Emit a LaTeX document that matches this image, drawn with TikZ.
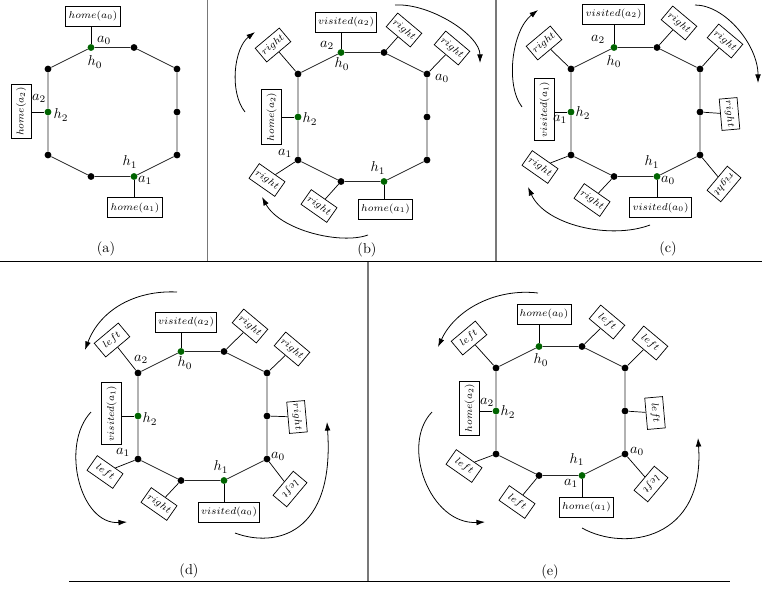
\documentclass[tikz,border=0pt]{standalone}
\usetikzlibrary{calc,arrows.meta}
\definecolor{dkgreen}{RGB}{0,100,0}
\definecolor{divgray}{RGB}{120,120,120}
\tikzset{
 vtx/.style={circle,fill=black,inner sep=0pt,minimum size=4.8pt},
 hvtx/.style={vtx,fill=dkgreen},
 ringline/.style={line width=0.55pt,draw=black!85},
 conn/.style={line width=0.5pt},
 lbl/.style={inner sep=0pt,font=\normalsize},
 ibox/.style={draw,line width=0.5pt,font=\scriptsize,inner sep=2pt,minimum height=14pt},
 dbox/.style={draw,line width=0.5pt,font=\scriptsize,inner sep=1.5pt,minimum width=22pt,minimum height=12.5pt},
 turn/.style={line width=0.55pt,-{Latex[length=6pt,width=4pt]}},
 divv/.style={draw=divgray,line width=0.9pt},
 divh/.style={draw=black,line width=0.6pt},
 sublbl/.style={inner sep=0pt,font=\normalsize}
}
\newcommand\ringat[3]{%
 \node[vtx] (#1L1) at (#2,#3) {};
 \node[hvtx] (#1T1) at (#2+43,#3-21.5) {};
 \node[vtx] (#1T2) at (#2+86,#3-21.5) {};
 \node[vtx] (#1R1) at (#2+129,#3) {};
 \node[vtx] (#1R2) at (#2+129,#3+43) {};
 \node[vtx] (#1R3) at (#2+129,#3+86) {};
 \node[hvtx] (#1B2) at (#2+86,#3+107.5) {};
 \node[vtx] (#1B1) at (#2+43,#3+107.5) {};
 \node[vtx] (#1L3) at (#2,#3+86) {};
 \node[hvtx] (#1L2) at (#2,#3+43) {};
 \draw[ringline] (#1L1)--(#1T1)--(#1T2)--(#1R1)--(#1R2)--(#1R3)--(#1B2)--(#1B1)--(#1L3)--(#1L2)--(#1L1);
}
% #1 name, #2 position, #3 rotation, #4 text, #5 vertex
\newcommand\dirbox[5]{%
 \node[dbox,rotate=#3] (#1) at (#2) {$#4$};
 \draw[conn] (#5) -- (#1);
}
% info boxes: straight connector; #6 = |- or -| ; #7 = anchor of box
\newcommand\infobox[7]{%
 \node[ibox,rotate=#3] (#1) at (#2) {$#4$};
 \draw[conn] (#5) -- (#5 #6 #1.#7);
}
\begin{document}
\begin{tikzpicture}[x=0.7pt,y=-0.7pt]
\useasboundingbox (0,0) rectangle (762,588);
% dividers
\draw[divv] (207.5,0) -- (207.5,261.5);
\draw[divv] (496,0) -- (496,261.5);
\draw[divv] (368,261.5) -- (368,581.5);
\draw[divh] (0,261.5) -- (762,261.5);
\draw[divh] (69,581.5) -- (730,581.5);

% ---------- (a)
\ringat{a}{48}{69}
\infobox{aH0}{93,16}{0}{home(a_0)}{aT1}{|-}{south}
\infobox{aH2}{21,111.5}{90}{home(a_2)}{aL2}{-|}{south}
\infobox{aH1}{135,207.5}{0}{home(a_1)}{aB2}{|-}{north}
\node[lbl] (aLa0) at ($(aT1)+(13,-7.5)$) {$a_0$};
\node[lbl] (aLh0) at ($(aT1)+(4,14.5)$) {$h_0$};
\node[lbl] (aLa2) at ($(aL2)+(-9,-14)$) {$a_2$};
\node[lbl] (aLh2) at ($(aL2)+(13,3)$) {$h_2$};
\node[lbl] (aLh1) at ($(aB2)+(-4,-14.5)$) {$h_1$};
\node[lbl] (aLa1) at ($(aB2)+(11,3.5)$) {$a_1$};
\node[sublbl] (capa) at (106,249) {(a)};

% ---------- (b)
\ringat{b}{298}{74}
\infobox{bV2}{346,22}{0}{visited(a_2)}{bT1}{|-}{south}
\infobox{bH2}{271.5,117}{90}{home(a_2)}{bL2}{-|}{south}
\infobox{bH1}{385.5,209}{0}{home(a_1)}{bB2}{|-}{north}
\dirbox{bD1}{273,45}{40}{right}{bL1}
\dirbox{bD2}{404,30}{-40}{right}{bT2}
\dirbox{bD3}{452,48}{-40}{right}{bR1}
\dirbox{bD4}{267,180}{-35}{right}{bL3}
\dirbox{bD5}{319,206}{-35}{right}{bB1}
\node[lbl] (bLa2) at ($(bT1)+(-14,-7.5)$) {$a_2$};
\node[lbl] (bLh0) at ($(bT1)+(1,11.5)$) {$h_0$};
\node[lbl] (bLa0) at ($(bR1)+(15,4)$) {$a_0$};
\node[lbl] (bLh2) at ($(bL2)+(12,2)$) {$h_2$};
\node[lbl] (bLa1) at ($(bL3)+(-13,-7)$) {$a_1$};
\node[lbl] (bLh1) at ($(bB2)+(-6,-13.5)$) {$h_1$};
\draw[turn] (245,112) .. controls (229,92) and (234,48) .. (255,32);
\draw[turn] (395,5) .. controls (430,3) and (480,35) .. (480,63);
\draw[turn] (368,235) .. controls (340,245) and (280,230) .. (262,197);
\node[sublbl] (capb) at (367,250) {(b)};

% ---------- (c)
\ringat{c}{571}{69}
\infobox{cV2}{613.5,14}{0}{visited(a_2)}{cT1}{|-}{south}
\infobox{cV1}{544.5,109.5}{90}{visited(a_1)}{cL2}{-|}{south}
\infobox{cV0}{660.5,207.5}{0}{visited(a_0)}{cB2}{|-}{north}
\dirbox{cD1}{544,43}{40}{right}{cL1}
\dirbox{cD2}{679,23}{-40}{right}{cT2}
\dirbox{cD3}{725,41}{-40}{right}{cR1}
\dirbox{cD4}{729.5,114}{-85}{right}{cR2}
\dirbox{cD5}{724,184}{-130}{right}{cR3}
\dirbox{cD6}{592,200}{-35}{right}{cB1}
\dirbox{cD7}{540,167}{-35}{right}{cL3}
\node[lbl] (cLa2) at ($(cT1)+(-16,-8.5)$) {$a_2$};
\node[lbl] (cLh0) at ($(cT1)+(0,14)$) {$h_0$};
\node[lbl] (cLh2) at ($(cL2)+(12,1)$) {$h_2$};
\node[lbl] (cLa1) at ($(cL2)+(-11,7)$) {$a_1$};
\node[lbl] (cLh1) at ($(cB2)+(-5,-14.5)$) {$h_1$};
\node[lbl] (cLa0) at ($(cB2)+(11,3.5)$) {$a_0$};
\draw[turn] (522,107) .. controls (505,85) and (512,30) .. (538,10);
\draw[turn] (695,5) .. controls (725,5) and (758,45) .. (758,83);
\draw[turn] (650,225) .. controls (610,240) and (545,225) .. (528,187);
\node[sublbl] (capc) at (668,249) {(c)};

% ---------- (d)
\ringat{d}{138}{373}
\infobox{dV2}{186,322}{0}{visited(a_2)}{dT1}{|-}{south}
\infobox{dV1}{111.5,413.5}{90}{visited(a_1)}{dL2}{-|}{south}
\infobox{dV0}{229,512}{0}{visited(a_0)}{dB2}{|-}{north}
\dirbox{dD1}{112,340}{40}{left}{dL1}
\dirbox{dD2}{250,326}{-40}{right}{dT2}
\dirbox{dD3}{292,349}{-40}{right}{dR1}
\dirbox{dD4}{297,417}{-85}{right}{dR2}
\dirbox{dD5}{290,489}{-130}{left}{dR3}
\dirbox{dD6}{159,504}{-35}{right}{dB1}
\dirbox{dD7}{105,472}{-35}{left}{dL3}
\node[lbl] (dLa2) at ($(dL1)+(3,-14)$) {$a_2$};
\node[lbl] (dLh0) at ($(dT1)+(4,11.5)$) {$h_0$};
\node[lbl] (dLh2) at ($(dL2)+(12,3)$) {$h_2$};
\node[lbl] (dLa1) at ($(dL3)+(-15,-7)$) {$a_1$};
\node[lbl] (dLh1) at ($(dB2)+(-3,-13.5)$) {$h_1$};
\node[lbl] (dLa0) at ($(dR3)+(11,-3)$) {$a_0$};
\draw[turn] (177,292) .. controls (135,290) and (100,310) .. (85,350);
\draw[turn] (91,412) .. controls (60,445) and (80,525) .. (127,522);
\draw[turn] (235,533) .. controls (275,548) and (335,535) .. (327,422);
\node[sublbl] (capd) at (189,571) {(d)};

% ---------- (e)
\ringat{e}{496}{368}
\infobox{eH0}{544,314}{0}{home(a_0)}{eT1}{|-}{south}
\infobox{eH2}{469.5,408}{90}{home(a_2)}{eL2}{-|}{south}
\infobox{eH1}{586.5,507}{0}{home(a_1)}{eB2}{|-}{north}
\dirbox{eD1}{469,338}{40}{left}{eL1}
\dirbox{eD2}{607,322}{-40}{left}{eT2}
\dirbox{eD3}{650,343}{-40}{left}{eR1}
\dirbox{eD4}{655,413}{-85}{left}{eR2}
\dirbox{eD5}{651,484}{-130}{left}{eR3}
\dirbox{eD6}{517,502}{-35}{left}{eB1}
\dirbox{eD7}{464,466}{-35}{left}{eL3}
\node[lbl] (eLh0) at ($(eT1)+(2,13.5)$) {$h_0$};
\node[lbl] (eLa2) at ($(eL2)+(-9,-9)$) {$a_2$};
\node[lbl] (eLh2) at ($(eL2)+(12,1)$) {$h_2$};
\node[lbl] (eLh1) at ($(eB2)+(-5,-16)$) {$h_1$};
\node[lbl] (eLa1) at ($(eB2)+(-11,7.5)$) {$a_1$};
\node[lbl] (eLa0) at ($(eR3)+(12,-3)$) {$a_0$};
\draw[turn] (538,293) .. controls (495,288) and (455,310) .. (438,347);
\draw[turn] (432,412) .. controls (400,445) and (430,525) .. (485,522);
\draw[turn] (582,528) .. controls (625,552) and (705,540) .. (698,438);
\node[sublbl] (cape) at (550,572) {(e)};
\end{tikzpicture}
\end{document}
